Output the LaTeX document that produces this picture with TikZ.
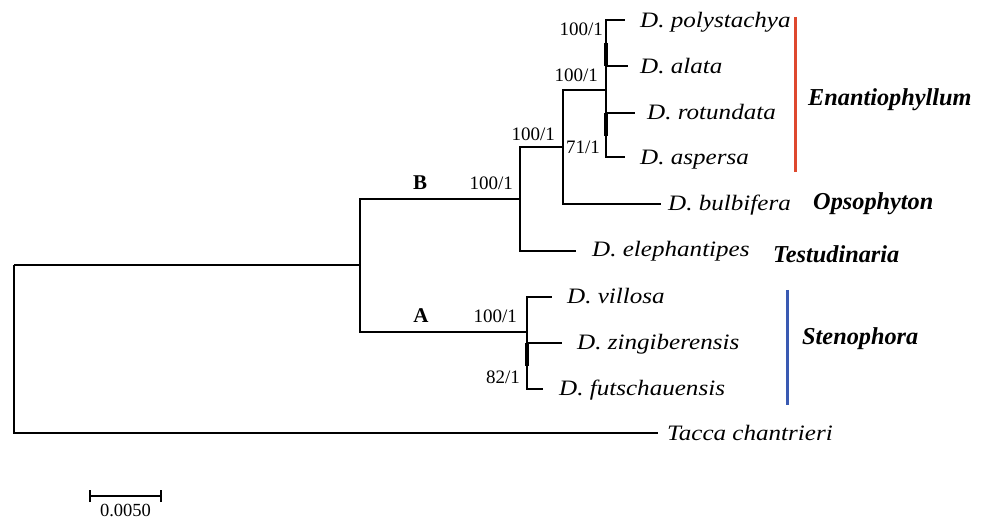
\documentclass[tikz,border=0pt]{standalone}
\usepackage{fontspec}
\setmainfont{Liberation Serif}
\newfontfamily\spfont{Liberation Serif}[FakeStretch=1.14]
\newfontfamily\numfont{Liberation Serif}
\newfontfamily\cladefont{Liberation Serif}
\definecolor{redbar}{RGB}{222,72,46}
\definecolor{bluebar}{RGB}{58,90,178}
\tikzset{
  br/.style={line width=1.5pt, line join=miter},
  zerobr/.style={line width=3.6pt},
  sp/.style={anchor=base west, inner sep=0pt, font=\spfont\itshape\fontsize{22}{22}\selectfont},
  sup/.style={anchor=base east, inner sep=0pt, font=\numfont\fontsize{19}{19}\selectfont},
  clade/.style={anchor=base west, inner sep=0pt, font=\cladefont\bfseries\itshape\fontsize{24.3}{24.3}\selectfont},
  grp/.style={anchor=base, inner sep=0pt, font=\bfseries\fontsize{21}{21}\selectfont},
  cbar/.style={line width=3pt}
}
\begin{document}
\begin{tikzpicture}[x=1pt,y=-1pt]
\useasboundingbox (0,0) rectangle (986,521);

% internal nodes
\coordinate (r)  at (14,265);
\coordinate (n1) at (360,265);
\coordinate (nB) at (520,199);
\coordinate (nE) at (563,147);
\coordinate (nP) at (606,90);
\coordinate (nA) at (527,332);

% tips
\coordinate (tTac) at (658,433);
\coordinate (tEle) at (576,251);
\coordinate (tBul) at (661,204);
\coordinate (tPol) at (625,20);
\coordinate (tAla) at (628,66);
\coordinate (tRot) at (635,113);
\coordinate (tAsp) at (625,157);
\coordinate (tVil) at (552,297);
\coordinate (tZin) at (562,343);
\coordinate (tFut) at (543,389);

% zero-length internal branches
\coordinate (k1a) at (606,43);
\coordinate (k1b) at (606,66);
\coordinate (k2a) at (606,113);
\coordinate (k2b) at (606,136);
\coordinate (k3a) at (527,343);
\coordinate (k3b) at (527,366);

% tree
\draw[br] (r) -- (n1);
\draw[br] (r) |- (tTac);
\draw[br] (n1) |- (nB);
\draw[br] (n1) |- (nA);
\draw[br] (nB) |- (nE);
\draw[br] (nB) |- (tEle);
\draw[br] (nE) |- (nP);
\draw[br] (nE) |- (tBul);
\draw[br] (nP) |- (tPol);
\draw[br] (nP) |- (tAla);
\draw[br] (nP) |- (tRot);
\draw[br] (nP) |- (tAsp);
\draw[br] (nA) |- (tVil);
\draw[br] (nA) |- (tZin);
\draw[br] (nA) |- (tFut);
\draw[zerobr] (k1a) -- (k1b);
\draw[zerobr] (k2a) -- (k2b);
\draw[zerobr] (k3a) -- (k3b);

% taxon names
\node[sp] (lPol) at (640,28) {D. polystachya};
\node[sp] (lAla) at (640,74) {D. alata};
\node[sp] (lRot) at (647,120) {D. rotundata};
\node[sp] (lAsp) at (640,165) {D. aspersa};
\node[sp] (lBul) at (668,211) {D. bulbifera};
\node[sp] (lEle) at (592,257) {D. elephantipes};
\node[sp] (lVil) at (567,304) {D. villosa};
\node[sp] (lZin) at (577,350) {D. zingiberensis};
\node[sp] (lFut) at (559,396) {D. futschauensis};
\node[sp] (lTac) at (667,440) {Tacca chantrieri};

% support values
\node[sup] (s1) at (603,36) {100/1};
\node[sup] (s2) at (598,82) {100/1};
\node[sup] (s3) at (555,141) {100/1};
\node[sup] (s4) at (600,154) {71/1};
\node[sup] (s5) at (513,190) {100/1};
\node[sup] (s6) at (517,323) {100/1};
\node[sup] (s7) at (520,384) {82/1};

% lineage letters
\node[grp] (gB) at (420,190) {B};
\node[grp] (gA) at (421,323) {A};

% section bars and names
\coordinate (e1) at (795,17);
\coordinate (e2) at (795,172);
\coordinate (st1) at (787,290);
\coordinate (st2) at (787,405);
\draw[cbar, redbar] (e1) -- (e2);
\draw[cbar, bluebar] (st1) -- (st2);
\node[clade] (cEna) at (808,106) {Enantiophyllum};
\node[clade] (cOps) at (813,210) {Opsophyton};
\node[clade] (cTes) at (773,263) {Testudinaria};
\node[clade] (cSte) at (802,345) {Stenophora};

% scale bar
\coordinate (sb1) at (90,496);
\coordinate (sb2) at (161,496);
\draw[line width=1.2pt] (sb1) -- (sb2);
\draw[line width=1.2pt] ([yshift=-6pt]sb1) -- ([yshift=6pt]sb1);
\draw[line width=1.2pt] ([yshift=-6pt]sb2) -- ([yshift=6pt]sb2);
\node[anchor=base, inner sep=0pt, font=\numfont\fontsize{18.5}{18.5}\selectfont] (sbl) at (125.5,516) {0.0050};
\end{tikzpicture}
\end{document}
